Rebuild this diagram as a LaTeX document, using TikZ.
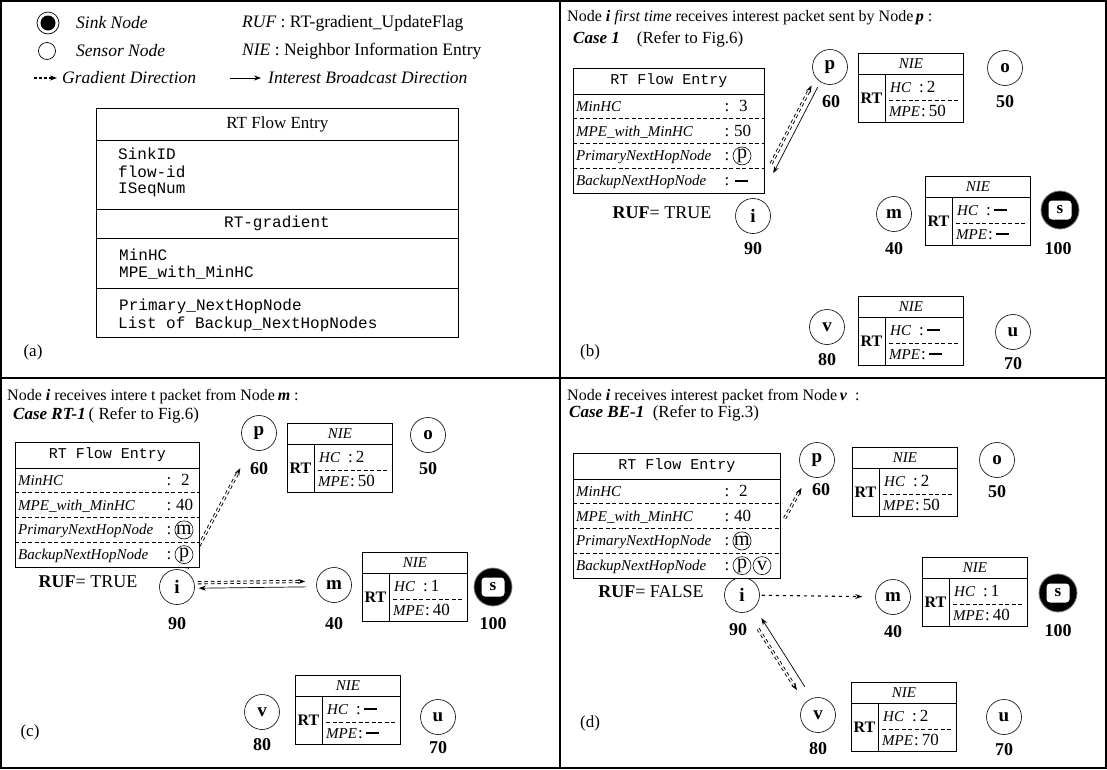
\documentclass[tikz,border=0pt]{standalone}
\usepackage{fontspec}
\setmainfont{Liberation Serif}
\setmonofont{Liberation Mono}
\usetikzlibrary{calc,arrows.meta}
\newcommand\setfs[1]{\fontsize{#1}{#1}\selectfont}
\newcommand\bdash{\rule[4pt]{13pt}{2pt}}
\tikzset{
  every node/.style={inner sep=0pt},
  sensor/.style={circle, draw, line width=0.6pt, minimum size=35pt, font=\setfs{19}\bfseries},
  num/.style={font=\setfs{18}\bfseries},
  tbl/.style={draw, fill=white, line width=0.7pt},
  tline/.style={line width=0.7pt},
  dline/.style={line width=0.6pt, dash pattern=on 4pt off 2.5pt},
  lbl/.style={anchor=base west, font=\setfs{15}\itshape},
  colonst/.style={anchor=base, font=\setfs{17}},
  val/.style={anchor=base west, font=\setfs{17}},
  cval/.style={circle, draw, line width=0.6pt, minimum size=18pt, font=\setfs{20}},
  grad/.style={double, double distance=1.4pt, line width=0.9pt, dash pattern=on 3.5pt off 3pt, -{Stealth[length=7pt,width=5pt]}},
  grads/.style={line width=1.1pt, dash pattern=on 3pt off 4pt, -{Stealth[length=7pt,width=5pt]}},
  ibc/.style={line width=0.7pt, -{Stealth[length=7pt,width=5pt]}},
  head/.style={anchor=west, font=\setfs{16}},
  casest/.style={anchor=west, font=\setfs{17}},
  legend/.style={anchor=west, font=\setfs{17.5}},
  sink/.style={circle, fill=black, draw=gray, line width=0.8pt, minimum size=38pt},
  sinkin/.style={fill=white, rounded corners=3.5pt, minimum width=23pt, minimum height=19pt, font=\setfs{17}\bfseries},
  plabel/.style={font=\setfs{17}},
  frame/.style={line width=2pt}
}
% NIE table: name, x, y, hc value, mpe value
\newcommand\NIEbox[5]{%
  \node[tbl, minimum width=105pt, minimum height=69pt, anchor=north west] (#1) at (#2,#3) {};
  \draw[tline] ([yshift=-21pt]#1.north west) -- ([yshift=-21pt]#1.north east);
  \draw[tline] ([xshift=27pt,yshift=-21pt]#1.north west) -- ([xshift=27pt]#1.south west);
  \node[font=\setfs{15}\itshape] (#1-t) at ([yshift=-10.5pt]#1.north) {NIE};
  \node[font=\setfs{16}\bfseries] (#1-rt) at ([xshift=13.5pt,yshift=-45pt]#1.north west) {RT};
  \node[anchor=base west, font=\setfs{15}\itshape] (#1-hc) at ([xshift=32pt,yshift=-39pt]#1.north west) {HC};
  \node[anchor=base west, font=\setfs{17}] (#1-hcv) at ([xshift=61pt,yshift=-39pt]#1.north west) {:\,#4};
  \draw[dline] ([xshift=31pt,yshift=-47pt]#1.north west) -- ([xshift=-4pt,yshift=-47pt]#1.north east);
  \node[anchor=base west, font=\setfs{15}\itshape] (#1-mpe) at ([xshift=31pt,yshift=-63pt]#1.north west) {MPE};
  \node[anchor=base west, font=\setfs{17}] (#1-mpev) at ([xshift=63pt,yshift=-63pt]#1.north west) {:\,#5};
}
% RT flow entry table: name, x, y, width, minhc, mpe
\newcommand\RTFbox[6]{%
  \node[tbl, minimum width=#4pt, minimum height=125pt, anchor=north west] (#1) at (#2,#3) {};
  \draw[tline] ([yshift=-26pt]#1.north west) -- ([yshift=-26pt]#1.north east);
  \draw[dline] ([yshift=-50.75pt]#1.north west) -- ([yshift=-50.75pt]#1.north east);
  \draw[dline] ([yshift=-75.5pt]#1.north west) -- ([yshift=-75.5pt]#1.north east);
  \draw[dline] ([yshift=-100.25pt]#1.north west) -- ([yshift=-100.25pt]#1.north east);
  \node[font=\setfs{15}\ttfamily] (#1-t) at ([yshift=-13pt]#1.north) {RT Flow Entry};
  \node[lbl] (#1-l1) at ([xshift=3pt,yshift=-43.4pt]#1.north west) {MinHC};
  \node[lbl] (#1-l2) at ([xshift=3pt,yshift=-68.1pt]#1.north west) {MPE\_with\_MinHC};
  \node[lbl] (#1-l3) at ([xshift=3pt,yshift=-92.9pt]#1.north west) {PrimaryNextHopNode};
  \node[lbl] (#1-l4) at ([xshift=3pt,yshift=-117.6pt]#1.north west) {BackupNextHopNode};
  \node[colonst] (#1-c1) at ([xshift=154pt,yshift=-43.4pt]#1.north west) {:};
  \node[colonst] (#1-c2) at ([xshift=154pt,yshift=-68.1pt]#1.north west) {:};
  \node[colonst] (#1-c3) at ([xshift=154pt,yshift=-92.9pt]#1.north west) {:};
  \node[colonst] (#1-c4) at ([xshift=154pt,yshift=-117.6pt]#1.north west) {:};
  \node[val] (#1-v1) at ([xshift=166pt,yshift=-43.4pt]#1.north west) {#5};
  \node[val] (#1-v2) at ([xshift=161pt,yshift=-68.1pt]#1.north west) {#6};
}
\begin{document}
\begin{tikzpicture}[x=1pt,y=-1pt]
\useasboundingbox (0,0) rectangle (1107,769);
\fill[white] (0,0) rectangle (1107,769);

% ================= (a) legend =================
\node[circle, draw, line width=0.7pt, minimum size=22pt] (lsink) at (48,23) {};
\node[circle, fill=black, minimum size=15pt] (lsinkc) at (lsink) {};
\node[legend, font=\setfs{17.5}\itshape] (lsinkt) at (76,23) {Sink Node};
\node[circle, draw, line width=0.7pt, minimum size=17pt] (lsens) at (47,51) {};
\node[legend, font=\setfs{17.5}\itshape] (lsenst) at (76,51) {Sensor Node};
\coordinate (lg1) at (34,78);
\coordinate (lg2) at (57,78);
\draw[grads, line width=1.6pt, dash pattern=on 2.5pt off 2.5pt] (lg1) -- (lg2);
\node[legend, font=\setfs{17.5}\itshape] (lgt) at (62,78) {Gradient Direction};
\coordinate (lb1) at (230,78);
\coordinate (lb2) at (261,78);
\draw[ibc] (lb1) -- (lb2);
\node[legend, font=\setfs{17.5}\itshape] (lbt) at (268,78) {Interest Broadcast Direction};
\node[legend] (lruf) at (242,23) {\textit{RUF} : RT-gradient\_UpdateFlag};
\node[legend] (lnie) at (242,51) {\textit{NIE} : Neighbor Information Entry};

\node[tbl, minimum width=362pt, minimum height=229pt, anchor=north west] (rtA) at (96,108) {};
\draw[tline] ([yshift=-32pt]rtA.north west) -- ([yshift=-32pt]rtA.north east);
\draw[tline] ([yshift=-101pt]rtA.north west) -- ([yshift=-101pt]rtA.north east);
\draw[tline] ([yshift=-130pt]rtA.north west) -- ([yshift=-130pt]rtA.north east);
\draw[tline] ([yshift=-180pt]rtA.north west) -- ([yshift=-180pt]rtA.north east);
\node[font=\setfs{17}] (rtAt) at ([yshift=-16pt]rtA.north) {RT Flow Entry};
\node[anchor=west, font=\setfs{16}\ttfamily] (a1) at (118,154) {SinkID};
\node[anchor=west, font=\setfs{16}\ttfamily] (a2) at (118,172) {flow-id};
\node[anchor=west, font=\setfs{16}\ttfamily] (a3) at (118,190) {ISeqNum};
\node[font=\setfs{16}\ttfamily] (a4) at (277,223) {RT-gradient};
\node[anchor=west, font=\setfs{16}\ttfamily] (a5) at (119,255) {MinHC};
\node[anchor=west, font=\setfs{16}\ttfamily] (a6) at (119,273) {MPE\_with\_MinHC};
\node[anchor=west, font=\setfs{16}\ttfamily] (a7) at (119,306) {Primary\_NextHopNode};
\node[anchor=west, font=\setfs{16}\ttfamily] (a8) at (118,324) {List of Backup\_NextHopNodes};
\node[plabel] (la) at (33,352) {(a)};

% ================= (b) =================
\node[head] (hb) at (567,18) {Node \textbf{\textit{i}} \textit{first time} receives interest packet sent by Node\,\textbf{\textit{p}} :};
\node[casest] (cb) at (573,39) {\textbf{\textit{Case 1}}\quad(Refer to Fig.6)};
\node[sensor] (b-p) at (830,67) {p};
\node[sensor] (b-o) at (1005,68) {o};
\node[sensor] (b-i) at (753,216) {i};
\node[sensor] (b-m) at (894,214) {m};
\node[sink] (b-s) at (1060,210) {};
\node[sinkin] (b-sl) at (b-s) {s};
\node[sensor] (b-v) at (827,327) {v};
\node[sensor] (b-u) at (1013,332) {u};
\node[num] (b-p60) at (831,102) {60};
\node[num] (b-o50) at (1005,102) {50};
\node[num] (b-i90) at (753,249) {90};
\node[num] (b-m40) at (894,249) {40};
\node[num] (b-s100) at (1058,249) {100};
\node[num] (b-v80) at (827,360) {80};
\node[num] (b-u70) at (1013,364) {70};
\draw[ibc, shorten <=6pt, shorten >=29.5pt, transform canvas={shift={(-1.5,-0.8)}}] (b-p) -- (b-i);
\draw[grad, shorten <=37pt, shorten >=7pt, transform canvas={shift={(-7,-3.6)}}] (b-i) -- (b-p);
\NIEbox{b-np}{858}{53}{2}{50}
\NIEbox{b-nm}{925}{176}{\bdash}{\bdash}
\NIEbox{b-nv}{858}{296}{\bdash}{\bdash}
\RTFbox{b-rt}{573}{68}{191}{3}{50}
\node[cval] (b-rt-p) at ([xshift=169pt,yshift=-87.9pt]b-rt.north west) {p};
\node[val] (b-rt-b) at ([xshift=162pt,yshift=-117.6pt]b-rt.north west) {\bdash};
\node[font=\setfs{18}] (b-ruf) at (662,213) {\textbf{RUF}= TRUE};
\node[plabel] (lb) at (590,352) {(b)};

% ================= (c) =================
\node[head] (hc) at (7,397) {Node \textbf{\textit{i}} receives intere t packet from Node\,\textbf{\textit{m}} :};
\node[casest] (cc) at (13,415) {\textbf{\textit{Case RT-1}}\,( Refer to Fig.6)};
\node[sensor] (c-p) at (259,433) {p};
\node[sensor] (c-o) at (428,435) {o};
\node[sensor] (c-i) at (177,587) {i};
\node[sensor] (c-m) at (334,585) {m};
\node[sink] (c-s) at (493,587) {};
\node[sinkin] (c-sl) at (c-s) {s};
\node[sensor] (c-v) at (262,712) {v};
\node[sensor] (c-u) at (438,717) {u};
\node[num] (c-p60) at (259,469) {60};
\node[num] (c-o50) at (428,469) {50};
\node[num] (c-i90) at (177,624) {90};
\node[num] (c-m40) at (334,624) {40};
\node[num] (c-s100) at (493,624) {100};
\node[num] (c-v80) at (262,745) {80};
\node[num] (c-u70) at (438,748) {70};
\draw[grad, shorten <=3pt, shorten >=22pt] (c-i) -- (c-p);
\draw[grad, shorten <=3pt, shorten >=11pt, transform canvas={shift={(0,-4)}}] (c-i) -- (c-m);
\draw[ibc, shorten <=10pt, shorten >=4pt, transform canvas={shift={(0,1.5)}}] (c-m) -- (c-i);
\NIEbox{c-np}{287}{423}{2}{50}
\NIEbox{c-nm}{362}{552}{1}{40}
\NIEbox{c-nv}{295}{675}{\bdash}{\bdash}
\RTFbox{c-rt}{15}{442}{184}{2}{40}
\node[cval] (c-rt-m) at ([xshift=169pt,yshift=-87.9pt]c-rt.north west) {m};
\node[cval] (c-rt-p) at ([xshift=169pt,yshift=-112.6pt]c-rt.north west) {p};
\node[font=\setfs{18}] (c-ruf) at (88,582) {\textbf{RUF}= TRUE};
\node[plabel] (lc) at (30,732) {(c)};

% ================= (d) =================
\node[head] (hd) at (567,397) {Node \textbf{\textit{i}} receives interest packet from Node\,\textbf{\textit{v}}\enspace :};
\node[casest] (cd) at (569,413) {\textbf{\textit{Case BE-1}}\enspace(Refer to Fig.3)};
\node[sensor] (d-p) at (817,460) {p};
\node[sensor] (d-o) at (997,460) {o};
\node[sensor] (d-i) at (742,595) {i};
\node[sensor] (d-m) at (893,597) {m};
\node[sink] (d-s) at (1058,593) {};
\node[sinkin] (d-sl) at (d-s) {s};
\node[sensor] (d-v) at (818,715) {v};
\node[sensor] (d-u) at (1004,717) {u};
\node[num] (d-p60) at (821,490) {60};
\node[num] (d-o50) at (997,492) {50};
\node[num] (d-i90) at (738,630) {90};
\node[num] (d-m40) at (893,632) {40};
\node[num] (d-s100) at (1058,631) {100};
\node[num] (d-v80) at (818,749) {80};
\node[num] (d-u70) at (1004,750) {70};
\draw[grads, shorten <=2pt, shorten >=13pt] (d-i) -- (d-m);
\draw[grad, shorten <=70pt, shorten >=14pt] (d-i) -- (d-p);
\draw[ibc, shorten <=13pt, shorten >=12pt, transform canvas={shift={(3.4,-2.1)}}] (d-v) -- (d-i);
\draw[grad, shorten <=19.5pt, shorten >=14.5pt, transform canvas={shift={(-3.8,2.4)}}] (d-i) -- (d-v);
\NIEbox{d-np}{852}{447}{2}{50}
\NIEbox{d-nm}{922}{557}{1}{40}
\NIEbox{d-nv}{851}{682}{2}{70}
\RTFbox{d-rt}{573}{453}{207}{2}{40}
\node[cval] (d-rt-m) at ([xshift=169pt,yshift=-87.9pt]d-rt.north west) {m};
\node[cval] (d-rt-p) at ([xshift=169pt,yshift=-112.6pt]d-rt.north west) {p};
\node[cval] (d-rt-v) at ([xshift=189pt,yshift=-112.6pt]d-rt.north west) {v};
\node[font=\setfs{18}] (d-ruf) at (651,592) {\textbf{RUF}= FALSE};
\node[plabel] (ld) at (590,723) {(d)};

% ================= frame =================
\draw[frame] (1,1) rectangle (1106,768);
\draw[frame] (560,0) -- (560,769);
\draw[frame] (0,378) -- (1107,378);
\end{tikzpicture}
\end{document}
